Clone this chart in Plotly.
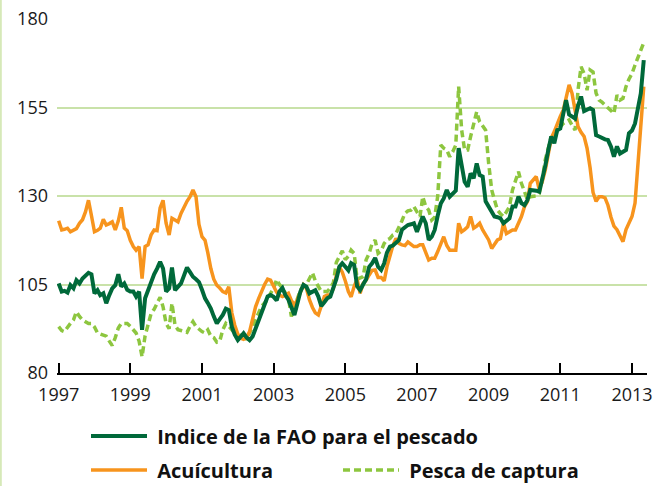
import pandas as pd
import plotly.graph_objects as go

# Monthly dates Jan 1997 - May 2013
dates = pd.date_range("1997-01-01", "2013-05-01", freq="MS")

tick_years = [1997, 1999, 2001, 2003, 2005, 2007, 2009, 2011, 2013]
y_ticks = [80, 105, 130, 155, 180]

names = ["Indice de la FAO para el pescado", "Acuícultura", "Pesca de captura"]

fao = [
    105.3, 103.0, 103.2, 102.7, 104.8, 103.9, 106.2, 105.3, 106.7, 107.5, 108.3, 107.9,
    102.5, 103.4, 102.0, 102.5, 99.7, 102.0, 103.9, 104.8, 107.9, 104.4, 105.3, 103.5,
    103.0, 103.0, 101.6, 103.0, 92.2, 101.1, 103.4, 105.5, 107.9, 109.5, 111.4, 109.5,
    103.0, 103.9, 109.8, 103.4, 104.5, 105.3, 107.5, 109.8, 108.5, 107.2, 106.5, 105.7,
    103.5, 101.1, 99.8, 98.2, 96.0, 94.0, 95.2, 96.4, 98.2, 97.8, 93.1, 90.8,
    89.3, 90.5, 91.2, 90.0, 89.3, 90.3, 92.5, 95.0, 97.8, 99.2, 101.6, 102.0,
    101.5, 100.5, 103.0, 104.0, 102.0, 100.7, 98.9, 96.4, 99.7, 103.0, 104.9, 104.4,
    102.5, 103.0, 103.4, 101.6, 98.9, 100.0, 101.1, 101.6, 104.0, 106.5, 110.0, 111.0,
    110.0, 109.0, 111.0, 110.5, 104.5, 103.4, 105.0, 106.5, 110.0, 111.0, 112.5, 110.0,
    109.1, 111.0, 114.0, 115.7, 116.0, 116.6, 117.5, 120.5, 121.3, 121.8, 122.0, 122.3,
    119.9, 122.3, 124.2, 122.3, 117.6, 118.5, 120.4, 124.5, 127.9, 129.3, 131.7, 129.8,
    130.7, 131.5, 143.5, 138.3, 134.0, 132.6, 136.4, 135.0, 139.2, 135.9, 135.5, 128.5,
    127.0, 126.0, 124.2, 124.0, 123.7, 122.3, 123.0, 123.7, 127.0, 127.0, 129.8, 128.0,
    127.4, 128.9, 131.7, 131.7, 131.5, 131.2, 134.5, 138.5, 143.0, 146.8, 144.9, 148.6,
    149.1, 153.5, 157.1, 153.0, 152.5, 151.9, 155.5, 158.1, 154.0, 154.5, 154.8, 154.3,
    147.2, 146.8, 146.3, 146.0, 145.8, 143.9, 141.1, 144.0, 142.0, 142.5, 143.0, 147.7,
    148.5, 150.5, 154.0, 159.0, 168.4,
]

acuicultura = [
    123.0, 120.4, 120.6, 120.9, 119.9, 120.4, 120.8, 122.3, 123.3, 125.5, 128.8, 124.5,
    119.9, 120.3, 120.9, 123.4, 121.8, 122.2, 122.7, 120.4, 123.0, 126.8, 120.9, 120.2,
    117.5, 115.7, 114.7, 115.7, 106.7, 115.7, 116.2, 119.0, 120.4, 120.2, 126.6, 128.8,
    122.3, 119.0, 123.7, 123.2, 122.7, 125.1, 127.0, 128.5, 129.8, 131.7, 129.8, 122.0,
    118.5, 117.5, 114.0, 109.5, 106.5, 104.8, 104.0, 103.0, 102.6, 104.4, 97.0, 93.5,
    91.0, 89.8, 89.5, 90.0, 91.7, 95.0, 98.7, 101.0, 103.4, 105.0, 106.5, 106.2,
    104.5, 102.8, 102.0, 101.6, 102.0, 102.5, 100.5, 99.2, 100.7, 103.0, 104.9, 103.9,
    100.7, 98.5, 97.0, 96.4, 99.0, 101.6, 102.0, 102.0, 103.9, 107.5, 110.0, 108.5,
    106.0, 103.0, 101.5, 104.5, 106.5, 102.5, 105.3, 106.2, 107.7, 109.0, 109.1, 107.0,
    107.0, 106.0, 110.0, 113.5, 116.0, 118.0, 116.6, 116.2, 116.0, 117.0, 116.2, 115.7,
    115.7, 116.2, 116.2, 114.0, 111.9, 112.4, 112.4, 114.3, 116.5, 118.5, 116.0, 114.7,
    114.7, 114.7, 122.3, 119.9, 120.5, 121.3, 124.2, 120.9, 121.5, 122.3, 120.4, 119.0,
    117.6, 115.2, 116.5, 117.6, 118.0, 122.3, 119.4, 120.0, 120.4, 120.4, 122.3, 124.2,
    127.0, 128.5, 133.6, 134.5, 135.5, 131.7, 134.0, 137.3, 142.0, 146.3, 148.2, 150.5,
    152.5, 154.3, 157.5, 161.4, 159.0, 154.0, 149.6, 148.0, 146.8, 143.5, 138.0, 131.0,
    128.5, 129.8, 129.8, 129.5, 127.4, 124.0, 121.5, 120.5, 118.5, 117.1, 120.5, 122.5,
    124.2, 128.0, 138.0, 150.0, 160.9,
]

pesca = [
    93.1, 92.0, 91.7, 93.0, 94.0, 95.0, 97.3, 96.0, 95.0, 94.5, 94.0, 94.0,
    93.0, 91.3, 91.0, 90.5, 90.4, 89.0, 87.8, 90.0, 92.7, 94.0, 94.1, 94.0,
    93.2, 92.0, 91.3, 89.0, 84.6, 90.5, 94.0, 96.8, 98.0, 99.7, 101.4, 98.7,
    94.0, 92.5, 99.7, 93.5, 92.2, 92.0, 91.7, 91.5, 93.2, 94.5, 93.1, 92.3,
    91.7, 91.3, 92.2, 90.4, 90.0, 88.7, 89.0, 92.2, 94.0, 93.2, 92.2, 91.0,
    90.3, 90.5, 91.5, 89.4, 91.3, 93.0, 95.1, 97.0, 98.9, 99.8, 100.7, 102.5,
    104.0, 106.4, 105.0, 104.0, 102.5, 101.1, 96.0, 98.9, 101.0, 103.5, 104.5, 105.0,
    106.5, 108.3, 106.0, 104.5, 103.0, 103.0, 103.0, 104.0, 105.5, 111.2, 113.0, 114.5,
    112.0, 113.0, 114.7, 113.8, 106.5, 107.0, 107.2, 112.0, 113.8, 116.6, 117.5, 113.8,
    114.5, 116.6, 117.6, 118.0, 119.0, 119.4, 121.0, 123.0, 125.1, 125.8, 126.0, 127.0,
    125.5, 124.2, 129.8, 127.0, 126.0, 123.2, 124.0, 130.0, 144.4, 143.5, 143.0, 141.1,
    142.5, 144.4, 160.9, 148.6, 143.0, 143.0, 146.8, 150.0, 153.8, 151.0, 149.6, 148.6,
    139.2, 131.7, 128.9, 126.0, 125.0, 124.2, 125.5, 127.0, 131.7, 134.0, 136.9, 133.6,
    131.0, 128.9, 129.8, 129.8, 130.0, 130.7, 134.5, 140.2, 144.0, 146.8, 145.8, 148.6,
    149.5, 150.5, 151.0, 151.5, 150.0, 148.6, 160.0, 166.5, 164.6, 159.9, 165.6, 165.0,
    159.0, 157.1, 156.5, 155.7, 155.0, 154.3, 153.3, 158.5, 157.1, 157.6, 160.9, 163.0,
    164.6, 167.0, 168.9, 171.2, 173.3,
]

C_FAO = "#00693a"
C_ACU = "#f7941d"
C_PES = "#8dc63f"
C_GRID = "#c9e2a9"
FONT = "Open Sans"
NBSP = "\u00a0"

fig = go.Figure()
fig.add_trace(go.Scatter(x=dates, y=pesca, name=NBSP + names[2], mode="lines",
                         line=dict(color=C_PES, width=3.5, dash="7px,4px"),
                         legend="legend2", legendrank=2))
fig.add_trace(go.Scatter(x=dates, y=acuicultura, name=NBSP + names[1], mode="lines",
                         line=dict(color=C_ACU, width=3.5),
                         legend="legend2", legendrank=1))
fig.add_trace(go.Scatter(x=dates, y=fao, name=NBSP + names[0], mode="lines",
                         line=dict(color=C_FAO, width=4),
                         legend="legend"))

PL, PR, PT, PB = 57, 18, 19, 113
W, H = 665, 486
pw = W - PL - PR
ph = H - PT - PB


def px_x(x):
    return (x - PL) / pw


def px_y(y):
    return (H - PB - y) / ph


legend_common = dict(xref="paper", yref="paper", xanchor="left", yanchor="middle",
                     orientation="h", itemwidth=56, bgcolor="rgba(0,0,0,0)",
                     font=dict(family=FONT, size=20, color="#111111", weight="bold"),
                     itemclick=False, itemdoubleclick=False)

fig.update_layout(
    width=W, height=H,
    margin=dict(l=PL, r=PR, t=PT, b=PB, autoexpand=False),
    paper_bgcolor="white", plot_bgcolor="white",
    font=dict(family=FONT, size=18, color="#1a1a1a"),
    showlegend=True,
    legend=dict(x=px_x(86), y=px_y(436), **legend_common),
    legend2=dict(x=px_x(86), y=px_y(470),
                 entrywidth=181, entrywidthmode="pixels", traceorder="normal",
                 **legend_common),
    xaxis=dict(
        type="date",
        range=["1996-12-15", "2013-06-03"],
        tickvals=[pd.Timestamp(f"{y}-01-01") for y in tick_years],
        ticktext=[str(y) for y in tick_years],
        ticks="inside", ticklen=10, tickwidth=1.5, tickcolor="black",
        showline=True, linecolor="black", linewidth=2,
        showgrid=False, zeroline=False,
        tickfont=dict(family=FONT, size=18, color="#1a1a1a"),
        ticklabelstandoff=4,
    ),
    yaxis=dict(
        range=[80, 180],
        tickvals=y_ticks,
        showgrid=True, gridcolor=C_GRID, gridwidth=1.5,
        zeroline=False, showline=False, ticks="",
        tickfont=dict(family=FONT, size=18, color="#1a1a1a"),
        ticklabelstandoff=8,
    ),
    shapes=[dict(type="line", xref="paper", yref="paper",
                 x0=px_x(0.8), x1=px_x(0.8), y0=px_y(0), y1=px_y(H),
                 line=dict(color="#d6e9b8", width=2))],
)

fig.write_html("out.html",
               config={"displayModeBar": False},
               post_script="document.body.style.margin='0';document.body.style.overflow='hidden';")
